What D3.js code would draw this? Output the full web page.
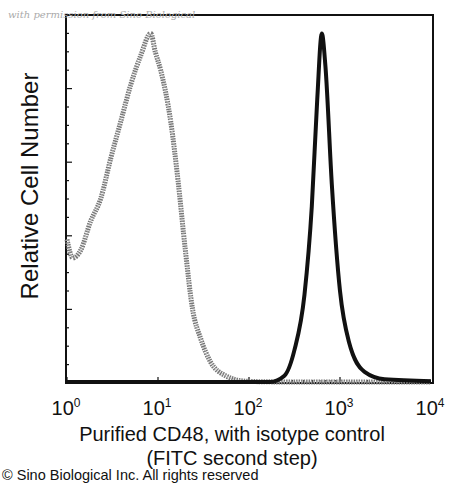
<!DOCTYPE html>
<html>
<head>
<meta charset="utf-8">
<script src="https://cdn.jsdelivr.net/npm/d3@7"></script>
<style>
body{margin:0;background:#fff;}
text{font-family:"Liberation Sans",Arial,sans-serif;}
</style>
</head>
<body>
<svg id="chart" width="450" height="486"></svg>
<script>
// isotype control histogram (fluorescence, relative count)
const isoX = [1,1.16,1.41,1.82,2.34,3.02,3.89,5.01,6.46,8.32,9.33,10.7,13.8,16.6,20,24,29.5,37.2,55,91,200,1000,10000];
const isoY = [39,34,36,44,50,61,71,81,89,95,90,85,71,55,36,20,12,6,2,0.5,0.3,0.3,0.3];
// purified CD48 histogram
const cdX = [1,10,100,170,245,316,407,490,562,631,692,813,1000,1259,1862,3090,10000];
const cdY = [0.3,0.3,0.3,0.3,2,9,24,48,77,95,86,54,25,11,3,1,0.5];
const xTicks = [1,10,100,1000,10000];
const xTickLabels = ["0","1","2","3","4"];

const svg = d3.select("#chart");
const plotLeft = 66, plotRight = 433, plotTop = 15, plotBottom = 383;

const x = d3.scaleLog().domain([1,10000]).range([plotLeft+1,plotRight-2]);
const y = d3.scaleLinear().domain([0,100]).range([plotBottom,plotTop]);

// frame
svg.append("rect")
    .attr("x",plotLeft).attr("y",plotTop)
    .attr("width",plotRight-plotLeft).attr("height",plotBottom-plotTop)
    .style("fill","none").style("stroke","#111").style("stroke-width",2);

// x ticks (major + minor), pointing up into the plot
for(let d=0; d<4; d++){
    for(let m=1; m<10; m++){
        let v = Math.pow(10,d)*m;
        svg.append("line")
            .attr("x1",x(v)).attr("x2",x(v))
            .attr("y1",plotBottom).attr("y2",plotBottom-(m==1?6:3))
            .style("stroke","#111").style("stroke-width",1.2);
    }
}
// y ticks
for(let v=0; v<=100; v+=5){
    svg.append("line")
        .attr("x1",plotLeft).attr("x2",plotLeft+(v%20==0?6:3))
        .attr("y1",y(v)).attr("y2",y(v))
        .style("stroke","#111").style("stroke-width",1.2);
}

// tick labels 10^n
xTicks.forEach(function(t,i){
    let lab = svg.append("text")
        .attr("x",x(t)-1).attr("y",415)
        .attr("text-anchor","middle")
        .style("font-size","20px").style("fill","#111");
    lab.append("tspan").text("10");
    lab.append("tspan").attr("dy",-8).style("font-size","12px").text(xTickLabels[i]);
});

const line = d3.line()
    .x(function(d){ return x(d[0]); })
    .y(function(d){ return y(d[1]); })
    .curve(d3.curveMonotoneX);

const isoPts = isoX.map(function(v,i){ return [v,isoY[i]]; });
const cdPts = cdX.map(function(v,i){ return [v,cdY[i]]; });

// isotype: grey stippled
svg.append("path")
    .attr("d",line(isoPts))
    .style("fill","none").style("stroke","#777").style("stroke-width",5)
    .style("stroke-dasharray","1.5,1");
svg.append("path")
    .attr("d",line(isoPts))
    .style("fill","none").style("stroke","#bbb").style("stroke-width",2)
    .style("stroke-dasharray","1,2");

// CD48: black
svg.append("path")
    .attr("d",line(cdPts))
    .style("fill","none").style("stroke","#111").style("stroke-width",4);

// labels
svg.append("text")
    .attr("transform","translate(38,186)rotate(-90)")
    .attr("text-anchor","middle")
    .style("font-size","24px").style("fill","#111")
    .text("Relative Cell Number");
svg.append("text")
    .attr("x",232).attr("y",441).attr("text-anchor","middle")
    .style("font-size","20px").style("fill","#111")
    .text("Purified CD48, with isotype control");
svg.append("text")
    .attr("x",232).attr("y",465).attr("text-anchor","middle")
    .style("font-size","20px").style("fill","#111")
    .text("(FITC second step)");
svg.append("text")
    .attr("x",2).attr("y",480)
    .style("font-size","14.5px").style("fill","#111")
    .text("© Sino Biological Inc. All rights reserved");
svg.append("text")
    .attr("x",8).attr("y",18)
    .style("font-family","'DejaVu Serif',serif").style("font-style","italic")
    .style("font-size","10px").style("fill","#aaa")
    .text("with permission from Sino Biological");
</script>
</body>
</html>
